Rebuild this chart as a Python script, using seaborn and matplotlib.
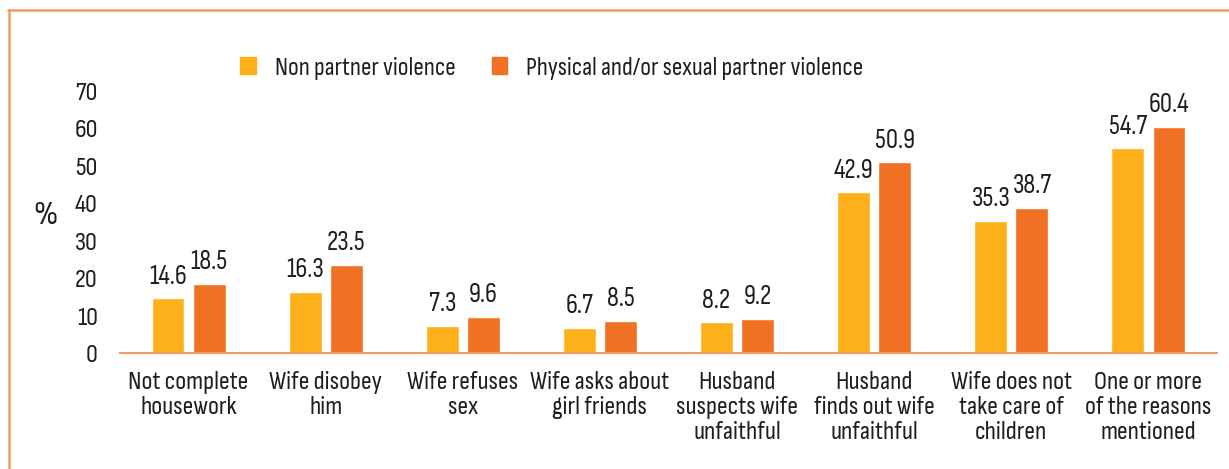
import matplotlib
matplotlib.use("Agg")
import matplotlib.pyplot as plt
from matplotlib.font_manager import fontManager
from matplotlib.lines import Line2D
import seaborn as sns
import pandas as pd

categories = [
    "Not complete\nhousework",
    "Wife disobey\nhim",
    "Wife refuses\nsex",
    "Wife asks about\ngirl friends",
    "Husband\nsuspects wife\nunfaithful",
    "Husband\nfinds out wife\nunfaithful",
    "Wife does not\ntake care of\nchildren",
    "One or more\nof the reasons\nmentioned",
]
series_names = ["Non partner violence", "Physical and/or sexual partner violence"]
non_partner = [14.6, 16.3, 7.3, 6.7, 8.2, 42.9, 35.3, 54.7]
partner = [18.5, 23.5, 9.6, 8.5, 9.2, 50.9, 38.7, 60.4]
y_ticks = [0, 10, 20, 30, 40, 50, 60, 70]

colors = ["#FDB01A", "#F07024"]
frame_color = "#F59B68"
text_color = "#1E1E1E"

sns.set_theme(style="white")
installed = {f.name for f in fontManager.ttflist}
preferred = ["Sofia Sans Condensed", "PT Sans Narrow", "Barlow Condensed", "DejaVu Sans"]
family = next(f for f in preferred if f in installed)
plt.rcParams["font.family"] = [family, "DejaVu Sans"]

df = pd.DataFrame({
    "reason": categories * 2,
    "type": [series_names[0]] * len(categories) + [series_names[1]] * len(categories),
    "value": non_partner + partner,
})

W, H = 1229, 469
fig = plt.figure(figsize=(W / 100, H / 100), dpi=100)
ax = fig.add_axes([120 / W, 1 - 353 / H, 1097 / W, (353 - 91) / H])

sns.barplot(data=df, x="reason", y="value", hue="type", order=categories,
            hue_order=series_names, palette=colors, width=0.6, gap=0.2,
            errorbar=None, saturation=1, ax=ax, legend=False)

for cont in ax.containers:
    ax.bar_label(cont, labels=[f"{v:.1f}" for v in cont.datavalues],
                 padding=7, fontsize=19.5, color=text_color)

ax.set_xlim(-0.5, len(categories) - 0.5)
ax.set_ylim(0, 70)
ax.set_yticks(y_ticks)
ax.set_yticklabels([str(t) for t in y_ticks])
ax.tick_params(axis="y", length=0, pad=16, labelsize=19, labelcolor=text_color)
ax.tick_params(axis="x", length=0, pad=13, labelsize=19, labelcolor=text_color)
for lab in ax.get_xticklabels():
    lab.set_linespacing(1.12)
ax.set_xlabel("")
ax.set_ylabel("")
for side in ["top", "right", "left"]:
    ax.spines[side].set_visible(False)
ax.spines["bottom"].set_color(frame_color)
ax.spines["bottom"].set_linewidth(1.5)

fig.text(45 / W, 1 - 215 / H, "%", fontsize=24, color=text_color,
         ha="center", va="center")

handles = [plt.Rectangle((0, 0), 1, 1, color=c) for c in colors]
fig.legend(handles, series_names, loc="center", bbox_to_anchor=(552 / W, 1 - 68 / H),
           ncol=2, frameon=False, fontsize=18.5, handlelength=0.6, handleheight=0.6,
           handletextpad=0.75, columnspacing=1.4, labelcolor=text_color)

# outer frame: top and left edges
fig.add_artist(Line2D([8 / W, 1], [1 - 10.5 / H] * 2, color=frame_color, lw=1.8,
                      transform=fig.transFigure))
fig.add_artist(Line2D([8.5 / W] * 2, [0, 1 - 10.5 / H], color=frame_color, lw=1.8,
                      transform=fig.transFigure))

fig.savefig("out.png", dpi=100, facecolor="white")
